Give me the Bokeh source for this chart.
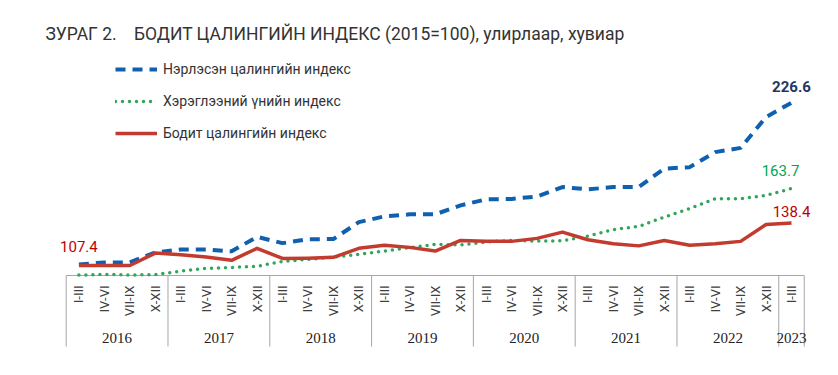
from bokeh.plotting import figure
from bokeh.models import Range1d, Label, Legend, LegendItem
from bokeh.core.properties import value
from bokeh.embed import file_html
from bokeh.resources import INLINE
import math

# ---- data ----
years = ["2016", "2017", "2018", "2019", "2020", "2021", "2022", "2023"]
quarters = ["I-III", "IV-VI", "VII-IX", "X-XII"]
quarters_per_year = [4, 4, 4, 4, 4, 4, 4, 1]

nominal = [108.1, 109.6, 109.6, 116.9, 119.1, 119.1, 117.7, 128.3,
           123.7, 126.5, 126.7, 139.1, 143.3, 144.8, 144.8, 151.4,
           155.8, 156.1, 157.9, 164.8, 163.1, 164.8, 164.9, 178.3,
           179.4, 190.4, 193.5, 216.1, 226.6]
cpi = [100.3, 100.8, 100.4, 100.6, 103.2, 105.2, 105.9, 106.7,
       110.3, 111.8, 113.5, 115.5, 117.9, 120.4, 122.8, 122.4,
       124.5, 125.7, 125.2, 125.4, 128.9, 133.6, 136.0, 142.8,
       149.0, 156.3, 156.3, 158.7, 163.7]
real = [107.4, 107.4, 107.3, 116.4, 115.2, 113.5, 111.1, 119.9,
        112.5, 112.7, 113.3, 119.9, 122.1, 120.6, 117.9, 125.7,
        125.0, 125.0, 127.2, 131.8, 126.2, 123.3, 121.7, 125.7,
        122.1, 123.3, 125.0, 137.4, 138.4]

series_names = ["Нэрлэсэн цалингийн индекс", "Хэрэглээний үнийн индекс", "Бодит цалингийн индекс"]
title_text = "ЗУРАГ 2.\u00a0\u00a0\u00a0\u00a0БОДИТ ЦАЛИНГИЙН ИНДЕКС (2015=100), улирлаар, хувиар"

# ---- layout ----
W, H = 822, 359
FONT = "Roboto"
BLUE, GREEN, RED = "#1060b0", "#33a55a", "#c23b2e"

n = len(real)
xs = list(range(n))
q_labels = []
for y, k in zip(years, quarters_per_year):
    q_labels.extend(quarters[:k])

p = figure(width=W, height=H, output_backend="svg", toolbar_location=None,
           x_axis_type=None, y_axis_type=None, min_border=0,
           x_range=Range1d(-3.081, 29.218), y_range=Range1d(38.44, 301.5))
p.outline_line_color = None
p.grid.visible = False
p.background_fill_color = "white"
p.border_fill_color = "white"

base = 100
px_per_unit = 1.3645

def v_from_px(dy):
    return base - dy / px_per_unit

# category box
box_bottom = v_from_px(71)
boundaries = [-0.5]
acc = -0.5
for k in quarters_per_year:
    acc += k
    boundaries.append(acc)
p.segment(x0=[boundaries[0]], y0=[base], x1=[boundaries[-1]], y1=[base], line_color="#a6a6a6", line_width=1)
p.segment(x0=boundaries, y0=[base] * len(boundaries), x1=boundaries, y1=[box_bottom] * len(boundaries),
          line_color="#a6a6a6", line_width=1)

# quarter labels (rotated)
p.text(x=xs, y=[v_from_px(10)] * n, text=q_labels, angle=math.pi / 2,
       text_align="right", text_baseline="middle", text_font=value(FONT),
       text_font_size="13px", text_color="#404040")

# year labels
year_centers = [(boundaries[i] + boundaries[i + 1]) / 2 for i in range(len(years))]
p.text(x=year_centers, y=[v_from_px(63)] * len(years), text=years, text_align="center",
       text_baseline="middle", text_font=value("Liberation Serif"), text_font_size="15px",
       text_color="#222222")

# series
r_nom = p.line(xs, nominal, line_color=BLUE, line_width=4, line_dash="10 7")
r_cpi = p.line(xs, cpi, line_color=GREEN, line_width=3.5, line_dash="0 7", line_cap="round")
r_real = p.line(xs, real, line_color=RED, line_width=3.5, line_join="round")

# data labels
p.text(x=[xs[0]], y=[real[0]], text=[f"{real[0]:.1f}"], y_offset=-19, text_align="center",
       text_baseline="middle", text_font=value(FONT), text_font_size="15px", text_color="#c00000")
p.text(x=[xs[-1]], y=[nominal[-1]], text=[f"{nominal[-1]:.1f}"], y_offset=-16, text_align="center",
       text_baseline="middle", text_font=value(FONT), text_font_size="15px", text_font_style="bold",
       text_color="#1f3864")
p.text(x=[xs[-1]], y=[cpi[-1]], text=[f"{cpi[-1]:.1f}"], x_offset=-11, y_offset=-18, text_align="center",
       text_baseline="middle", text_font=value(FONT), text_font_size="15px", text_color="#00a84f")
p.text(x=[xs[-1]], y=[real[-1]], text=[f"{real[-1]:.1f}"], y_offset=-12, text_align="center",
       text_baseline="middle", text_font=value(FONT), text_font_size="15px", text_color="#c00000")

# title
p.add_layout(Label(x=45, y=H - 33, x_units="screen", y_units="screen", text=title_text,
                   text_font=FONT, text_font_size="17.5px", text_color="#333333",
                   text_baseline="middle"))

# legend
legend = Legend(items=[LegendItem(label=series_names[0], renderers=[r_nom]),
                       LegendItem(label=series_names[1], renderers=[r_cpi]),
                       LegendItem(label=series_names[2], renderers=[r_real])],
                location=(115, 216), orientation="vertical", padding=0, margin=0, spacing=12,
                glyph_width=42, glyph_height=20, label_height=20, label_standoff=6,
                label_text_font=FONT, label_text_font_size="14px", label_text_color="#333333",
                border_line_color=None, background_fill_alpha=0)
p.add_layout(legend)

open("out.html", "w").write(file_html(p, INLINE))
